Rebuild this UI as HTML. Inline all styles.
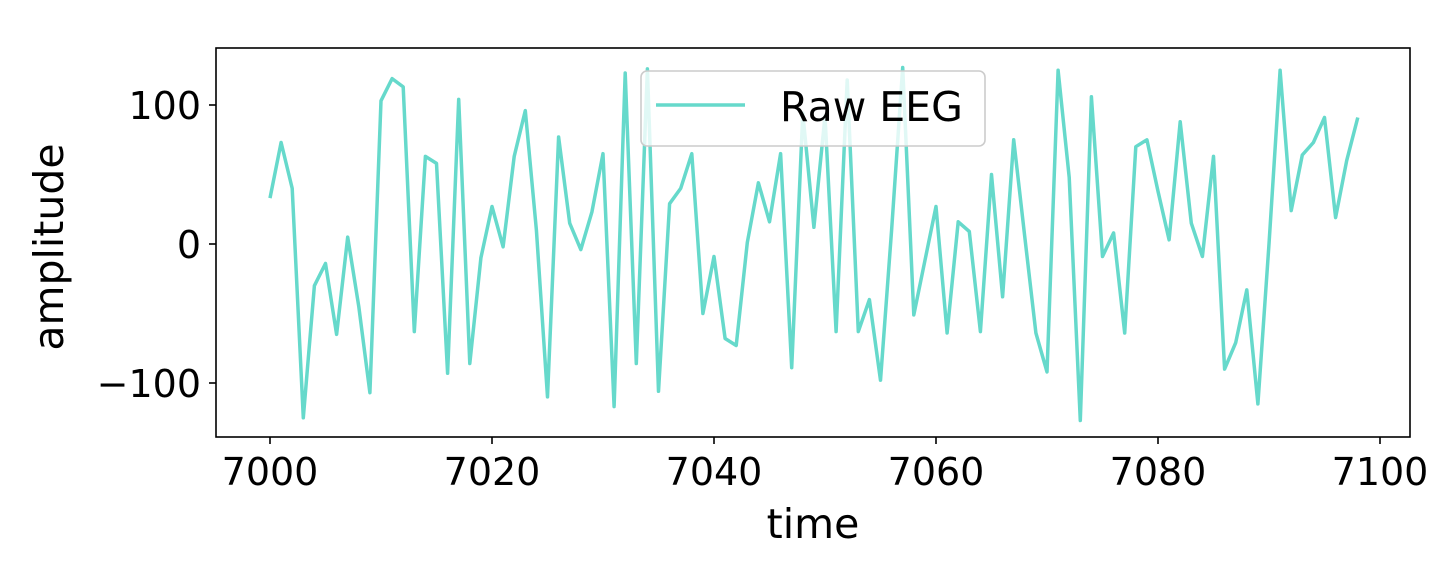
<!DOCTYPE html>
<html><head><meta charset="utf-8"><style>
html,body{margin:0;padding:0;background:#fff;}
svg text{font-family:"DejaVu Sans","Liberation Sans",sans-serif;fill:#000;}
</style></head><body>
<svg id="chart" width="1440" height="560" viewBox="0 0 1440 560" xmlns="http://www.w3.org/2000/svg">
<g id="plot"></g>
</svg>
<script>
const startTime = 7000;
const amplitude = [33,73,40,-125,-30,-14,-65,5,-45,-107,103,119,113,-63,63,58,-93,104,-86,-10,27,-2,63,96,10,-110,77,15,-4,23,65,-117,123,-86,126,-106,29,40,65,-50,-9,-68,-73,1,44,16,65,-89,94,12,92,-63,118,-63,-40,-98,10,127,-51,-12,27,-64,16,9,-63,50,-38,75,5,-64,-92,125,48,-127,106,-9,8,-64,70,75,38,3,88,15,-9,63,-90,-71,-33,-115,0,125,24,64,73,91,19,60,91];
const xTicks = [7000,7020,7040,7060,7080,7100];
const yTicks = [-100,0,100];

const NS='http://www.w3.org/2000/svg';
const g=document.getElementById('plot');
const L=216,R=1410,T=48,B=437;
const xs=v=>270+(v-7000)*11.1;
const ys=v=>244-v*1.39;
function mk(tag,attrs,parent){const e=document.createElementNS(NS,tag);for(const k in attrs)e.setAttribute(k,attrs[k]);(parent||g).appendChild(e);return e;}

let d='';
amplitude.forEach((v,i)=>{d+=(i?'L':'M')+xs(startTime+i).toFixed(1)+','+ys(v).toFixed(1);});
const line=mk('path',{d:d,fill:'none',stroke:'#66d9cb','stroke-width':3.5,'stroke-linejoin':'round'});



const frame=mk('rect',{x:L,y:T,width:R-L,height:B-T,fill:'none',stroke:'#000','stroke-width':1.6});



xTicks.forEach(t=>{
  const x=xs(t);
  const tk=mk('line',{x1:x,x2:x,y1:B,y2:B+7,stroke:'#000','stroke-width':1.6});
  
  
  const lb=mk('text',{x:x,y:485,'text-anchor':'middle','font-size':38});
  lb.textContent=t;
  
  
});
yTicks.forEach(t=>{
  const y=ys(t);
  const tk=mk('line',{x1:L-7,x2:L,y1:y,y2:y,stroke:'#000','stroke-width':1.6});
  
  
  const lb=mk('text',{x:201,y:y+14,'text-anchor':'end','font-size':38});
  lb.textContent=t<0?'\u2212'+Math.abs(t):String(t);
  
  
});

const xt=mk('text',{x:813,y:538,'text-anchor':'middle','font-size':41});
xt.textContent='time';


const yt=mk('text',{x:0,y:0,'text-anchor':'middle','font-size':41,transform:'translate(63,247) rotate(-90)'});
yt.textContent='amplitude';



const lg=mk('g',{});


mk('rect',{x:641,y:71,width:344,height:75,rx:6,fill:'rgba(255,255,255,0.8)',stroke:'#cccccc','stroke-width':1.6},lg);
const ll=mk('line',{x1:656,x2:745,y1:105,y2:105,stroke:'#66d9cb','stroke-width':3.5},lg);


const lt=mk('text',{x:780,y:121,'font-size':41},lg);
lt.textContent='Raw EEG';


</script>
</body></html>
